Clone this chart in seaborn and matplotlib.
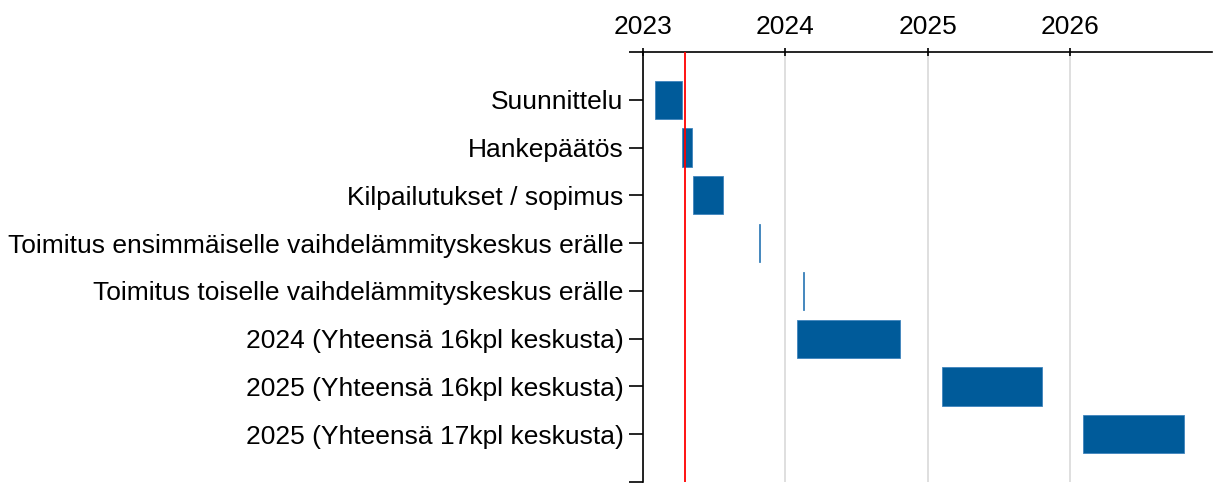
from matplotlib import pyplot as plt
import matplotlib.dates as mdates
import numpy as np
import pandas as pd
import seaborn as sns

tasks = [
    "Suunnittelu",
    "Hankepäätös",
    "Kilpailutukset / sopimus",
    "Toimitus ensimmäiselle vaihdelämmityskeskus erälle",
    "Toimitus toiselle vaihdelämmityskeskus erälle",
    "2024 (Yhteensä 16kpl keskusta)",
    "2025 (Yhteensä 16kpl keskusta)",
    "2025 (Yhteensä 17kpl keskusta)",
]
starts = ["2023-02-01", "2023-04-12", "2023-05-08", "2023-10-26",
          "2024-02-15", "2024-02-01", "2025-02-05", "2026-02-03"]
ends = ["2023-04-10", "2023-05-06", "2023-07-26", "2023-10-29",
        "2024-02-18", "2024-10-21", "2025-10-20", "2026-10-20"]
today = "2023-04-18"
year_ticks = [2023, 2024, 2025, 2026]

df = pd.DataFrame({"task": tasks,
                   "start": pd.to_datetime(starts),
                   "end": pd.to_datetime(ends)})
df["s"] = mdates.date2num(df["start"])
df["dur"] = mdates.date2num(df["end"]) - df["s"]

sns.set_style("white")
plt.rcParams["font.family"] = ["Liberation Sans", "DejaVu Sans"]
plt.rcParams["text.color"] = "black"
plt.rcParams["xtick.color"] = "black"
plt.rcParams["ytick.color"] = "black"

fig = plt.figure(figsize=(12.16, 4.84), dpi=100)
ax = fig.add_axes([0.5288, 0.0041, 0.4679, 0.8885])

ypos = np.arange(len(tasks))
ax.barh(ypos, df["dur"], left=df["s"], height=0.8, color="#005b9a",
        edgecolor="#3f84bd", linewidth=0.6)
ax.axvline(mdates.date2num(pd.Timestamp(today)), color="red", lw=1.3, zorder=3)

ax.set_ylim(len(tasks), -1)
ax.set_yticks(ypos)
ax.set_yticklabels(tasks, fontsize=19)
ax.set_yticks([-1, len(tasks)], minor=True)

xt = [mdates.date2num(pd.Timestamp(f"{y}-01-01")) for y in year_ticks]
ax.set_xticks(xt)
ax.set_xticklabels([str(y) for y in year_ticks], fontsize=19)
ax.set_xlim(xt[0], mdates.date2num(pd.Timestamp("2026-12-31")))
ax.xaxis.tick_top()
ax.grid(axis="x", color="#d9d9d9", lw=1.2)
ax.set_axisbelow(True)

for side in ["right", "bottom"]:
    ax.spines[side].set_visible(False)
for side in ["top", "left"]:
    ax.spines[side].set_color("black")
    ax.spines[side].set_linewidth(1.2)
ax.tick_params(axis="y", which="both", left=True, length=10, width=1.2, pad=4)
ax.tick_params(axis="x", top=True, length=6, width=1.2, direction="inout", pad=6)

fig.savefig("out.png", dpi=100)
